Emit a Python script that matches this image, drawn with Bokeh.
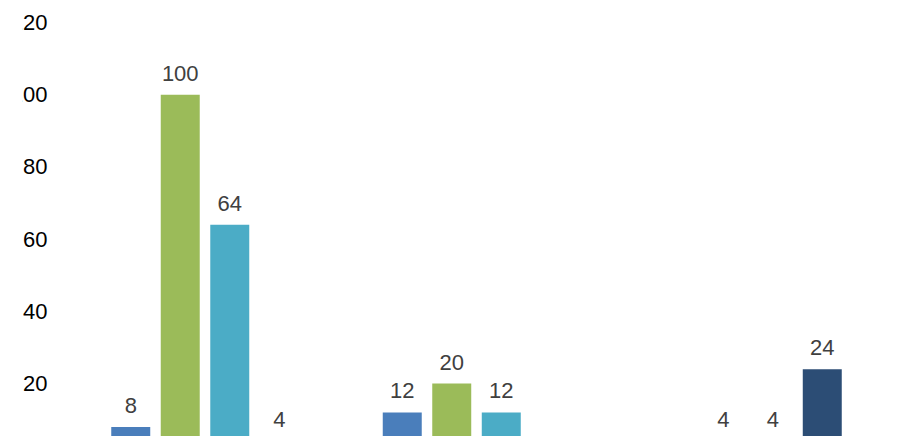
import math

from bokeh.core.properties import value
from bokeh.embed import file_html
from bokeh.models import ColumnDataSource, LabelSet, Range1d
from bokeh.plotting import figure
from bokeh.resources import INLINE
from bokeh.transform import dodge

FONT = "Liberation Sans"

groups = ["A", "B", "C"]
series_names = ["Series 1", "Series 2", "Series 3", "Series 4"]
series_1 = [8, 12, math.nan]
series_2 = [100, 20, 4]
series_3 = [64, 12, 4]
series_4 = [4, math.nan, 24]
series_colors = ["#4a7ebb", "#9bbb59", "#4bacc6", "#2c4d75"]
y_ticks = [20, 40, 60, 80, 100, 120]

# groups sit at 0, 1, 2 on a plain numeric x range; the range is lopsided so the
# frame starts right at the cut-off tick labels like in the original
p = figure(
    x_range=Range1d(-0.6722, 2.5543),
    y_range=Range1d(5.35, 126.1),
    width=876, height=436,
    output_backend="svg", toolbar_location=None,
    x_axis_location=None, y_axis_location=None,
    min_border_left=0, min_border_right=0, min_border_top=0, min_border_bottom=0,
    outline_line_color=None,
)
p.margin = (0, 0, 0, 22)
p.xgrid.visible = False
p.ygrid.visible = False

group_pos = list(range(len(groups)))
offsets = [-0.2735, -0.0912, 0.0912, 0.2735]
for name, vals, color, off in zip(series_names, [series_1, series_2, series_3, series_4], series_colors, offsets):
    labels = ["" if math.isnan(v) else str(v) for v in vals]
    source = ColumnDataSource(data={"group": groups, "pos": group_pos, "value": vals, "label": labels})
    p.vbar(x=dodge("pos", off), top="value", bottom=0, width=0.1436, source=source,
           fill_color=color, line_color=None)
    p.add_layout(LabelSet(x=dodge("pos", off), y="value", text="label", source=source,
                          text_align="center", text_baseline="alphabetic", y_offset=14,
                          text_font=value(FONT), text_font_size="22px", text_color="#404040"))

# y tick labels; screen x counts from the frame's left edge, which clips the leading "1"
tick_source = ColumnDataSource(data={"y": y_ticks, "label": [str(t) for t in y_ticks]})
p.add_layout(LabelSet(x=25, x_units="screen", y="y", text="label", source=tick_source,
                      text_align="right", text_baseline="middle",
                      text_font=value(FONT), text_font_size="22px", text_color="#000000"))

open("out.html", "w").write(file_html(p, INLINE))
